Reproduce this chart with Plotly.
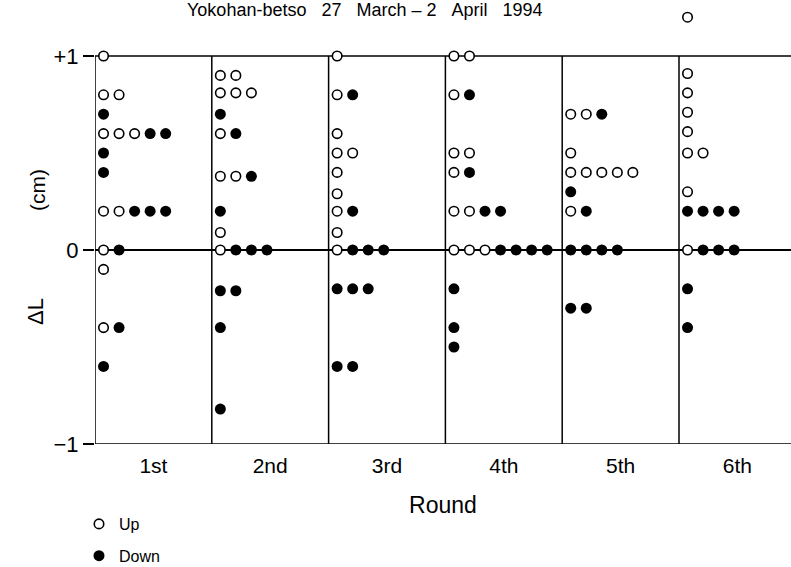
import plotly.graph_objects as go

# ---- data ----
rounds = ["1st", "2nd", "3rd", "4th", "5th", "6th"]

up_values = [
    [1.0, 0.8, 0.8, 0.6, 0.6, 0.6, 0.2, 0.2, 0.0, -0.1, -0.4],
    [0.9, 0.9, 0.81, 0.81, 0.81, 0.6, 0.38, 0.38, 0.09, 0.0],
    [1.0, 0.8, 0.6, 0.5, 0.5, 0.4, 0.29, 0.2, 0.09, 0.0],
    [1.0, 1.0, 0.8, 0.5, 0.5, 0.4, 0.2, 0.2, 0.0, 0.0, 0.0],
    [0.7, 0.7, 0.5, 0.4, 0.4, 0.4, 0.4, 0.4, 0.2],
    [1.2, 0.91, 0.81, 0.71, 0.61, 0.5, 0.5, 0.3, 0.0],
]

down_values = [
    [0.7, 0.6, 0.6, 0.5, 0.4, 0.2, 0.2, 0.2, 0.0, -0.4, -0.6],
    [0.7, 0.6, 0.38, 0.2, 0.0, 0.0, 0.0, -0.21, -0.21, -0.4, -0.82],
    [0.8, 0.2, 0.0, 0.0, 0.0, -0.2, -0.2, -0.2, -0.6, -0.6],
    [0.8, 0.4, 0.2, 0.2, 0.0, 0.0, 0.0, 0.0, -0.2, -0.4, -0.5],
    [0.7, 0.3, 0.2, 0.0, 0.0, 0.0, 0.0, -0.3, -0.3],
    [0.2, 0.2, 0.2, 0.2, 0.0, 0.0, 0.0, -0.2, -0.4],
]

title_words = ["Yokohan-betso", "27", "March", "–", "2", "April", "1994"]

# ---- layout of dots within each round panel (stacked left to right) ----
X_OFFSET = 0.073   # first dot from panel's left boundary (panel width = 1)
X_STEP = 0.133     # spacing between dots in a row

up_x, up_y, dn_x, dn_y = [], [], [], []
for i, r in enumerate(rounds):
    counts = {}
    for v in up_values[i]:
        k = counts.get(round(v, 2), 0)
        counts[round(v, 2)] = k + 1
        up_x.append(i + X_OFFSET + k * X_STEP)
        up_y.append(v)
    for v in down_values[i]:
        k = counts.get(round(v, 2), 0)
        counts[round(v, 2)] = k + 1
        dn_x.append(i + X_OFFSET + k * X_STEP)
        dn_y.append(v)

W, H = 791, 567
ML, MR, MT, MB = 95, 0, 0, 123
panel_px = 116.8
x_max = (W - ML - MR) / panel_px
y_top = 1 + 56 / 194.0

fig = go.Figure()
fig.add_trace(go.Scatter(
    x=up_x, y=up_y, mode="markers", name="Up", legendgroup="up",
    marker=dict(symbol="circle", size=9.5, color="white",
                line=dict(color="black", width=1.6)),
    cliponaxis=False,
))
fig.add_trace(go.Scatter(
    x=dn_x, y=dn_y, mode="markers", name="Down", legendgroup="down",
    marker=dict(symbol="circle", size=11, color="black",
                line=dict(color="black", width=0)),
    cliponaxis=False,
))

shapes = []
for i in range(len(rounds)):
    shapes.append(dict(type="line", xref="x", yref="y", x0=i, x1=i, y0=-1, y1=1,
                       line=dict(color="black", width=1.5), layer="below"))
for yv in (1, -1):
    shapes.append(dict(type="line", xref="x", yref="y", x0=0, x1=x_max, y0=yv, y1=yv,
                       line=dict(color="black", width=1.5), layer="below"))

font_family = "Liberation Sans, Arial, sans-serif"
PH = H - MB - MT
sep = "&nbsp;&nbsp;&nbsp;"
title_text = sep.join(title_words[:3]) + "&nbsp;– 2" + sep + sep.join(title_words[5:])

fig.update_layout(
    width=W, height=H, autosize=False,
    margin=dict(l=ML, r=MR, t=MT, b=MB, pad=0, autoexpand=False),
    paper_bgcolor="white", plot_bgcolor="white",
    font=dict(family=font_family, color="black"),
    shapes=shapes,
    showlegend=True,
    legend=dict(x=-0.023, y=(PH - 507) / PH, xanchor="left", yanchor="top",
                font=dict(size=16, family=font_family, color="black"),
                tracegroupgap=8, bgcolor="rgba(0,0,0,0)", borderwidth=0),
    xaxis=dict(range=[0, x_max], showgrid=False, zeroline=False, showline=False,
               tickvals=[i + 0.5 for i in range(len(rounds))], ticktext=rounds,
               ticks="outside", ticklen=3, tickcolor="rgba(0,0,0,0)",
               tickfont=dict(size=21),
               title=dict(text="Round", font=dict(size=23), standoff=20)),
    yaxis=dict(range=[-1, y_top], showgrid=False, showline=False,
               zeroline=True, zerolinecolor="black", zerolinewidth=1.5,
               tickvals=[-1, 0, 1], ticktext=["\u22121", "0", "+1"],
               ticks="outside", ticklen=11, tickwidth=1.5, tickcolor="black",
               tickfont=dict(size=22)),
    annotations=[
        dict(text="(cm)", xref="paper", yref="paper", x=(38 - ML) / (W - ML), y=(PH - 190) / PH,
             showarrow=False, textangle=-90, font=dict(size=21), xanchor="center", yanchor="middle"),
        dict(text="\u0394L", xref="paper", yref="paper", x=(36 - ML) / (W - ML), y=(PH - 312) / PH,
             showarrow=False, textangle=-90, font=dict(size=22), xanchor="center", yanchor="middle"),
        dict(text=title_text, xref="paper", yref="paper", x=(365 - ML) / (W - ML), y=(PH - 10) / PH,
             showarrow=False, font=dict(size=18), xanchor="center", yanchor="middle"),
    ],
)

fig.write_html("out.html")
